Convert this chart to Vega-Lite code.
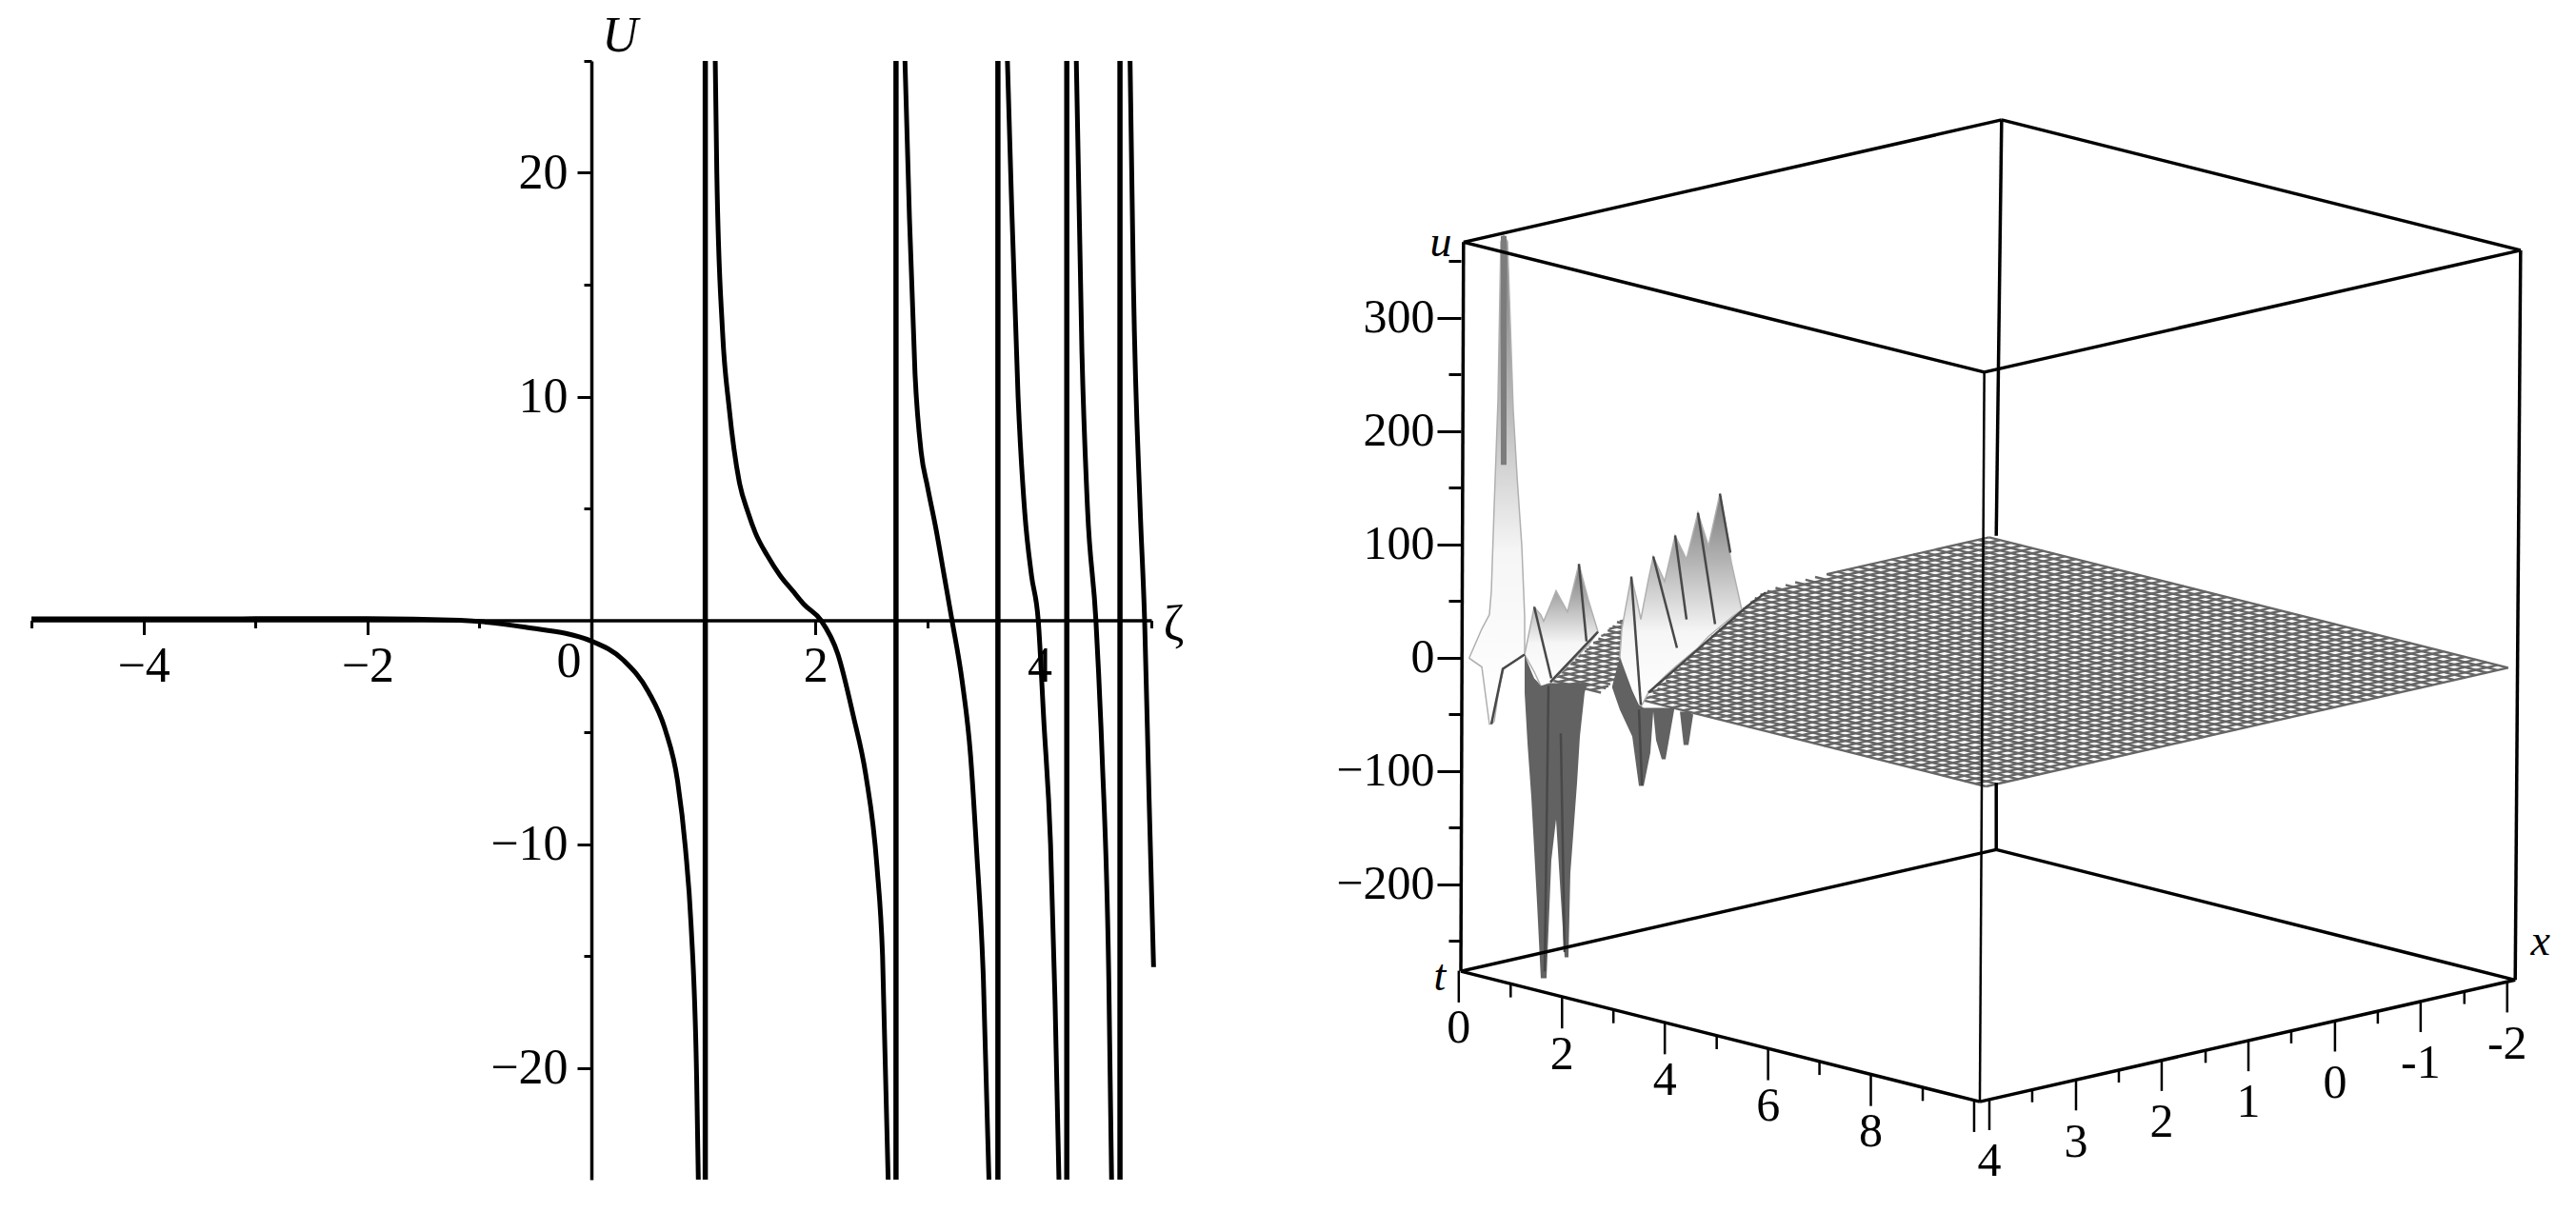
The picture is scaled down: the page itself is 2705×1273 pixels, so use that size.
{
  "$schema": "https://vega.github.io/schema/vega-lite/v6.json",
  "background": "white",
  "padding": {"left": 23, "top": 12, "right": 0, "bottom": 0},
  "bounds": "flush",
  "spacing": 325,
  "config": {"view": {"stroke": null}},
  "datasets": {
    "curve": [
      {"seg":1,"zeta":-5,"U":0.06},{"seg":1,"zeta":-4,"U":0.06},{"seg":1,"zeta":-3,"U":0.07},{"seg":1,"zeta":-2,"U":0.07},{"seg":1,"zeta":-1.17,"U":0},{"seg":1,"zeta":-0.59,"U":-0.31},{"seg":1,"zeta":0,"U":-0.93},{"seg":1,"zeta":0.29,"U":-1.8},{"seg":1,"zeta":0.51,"U":-3.2},{"seg":1,"zeta":0.66,"U":-4.9},{"seg":1,"zeta":0.77,"U":-7.2},{"seg":1,"zeta":0.84,"U":-10.2},{"seg":1,"zeta":0.89,"U":-13.6},{"seg":1,"zeta":0.94,"U":-20.5},{"seg":1,"zeta":0.955,"U":-25},
      {"seg":2,"zeta":1.106,"U":25},{"seg":2,"zeta":1.12,"U":20},{"seg":2,"zeta":1.17,"U":13},{"seg":2,"zeta":1.23,"U":9.5},{"seg":2,"zeta":1.32,"U":6.2},{"seg":2,"zeta":1.4,"U":4.8},{"seg":2,"zeta":1.465,"U":3.9},{"seg":2,"zeta":1.57,"U":2.9},{"seg":2,"zeta":1.685,"U":2},{"seg":2,"zeta":1.8,"U":1.3},{"seg":2,"zeta":1.9,"U":0.7},{"seg":2,"zeta":2.05,"U":0},{"seg":2,"zeta":2.2,"U":-1.5},{"seg":2,"zeta":2.34,"U":-4.3},{"seg":2,"zeta":2.45,"U":-6.9},{"seg":2,"zeta":2.55,"U":-11},{"seg":2,"zeta":2.6,"U":-15},{"seg":2,"zeta":2.65,"U":-25},
      {"seg":3,"zeta":2.8,"U":25},{"seg":3,"zeta":2.84,"U":18},{"seg":3,"zeta":2.89,"U":11},{"seg":3,"zeta":2.945,"U":7.5},{"seg":3,"zeta":3,"U":6},{"seg":3,"zeta":3.08,"U":4},{"seg":3,"zeta":3.15,"U":2},{"seg":3,"zeta":3.22,"U":0},{"seg":3,"zeta":3.31,"U":-2.7},{"seg":3,"zeta":3.385,"U":-6},{"seg":3,"zeta":3.44,"U":-10.3},{"seg":3,"zeta":3.5,"U":-16},{"seg":3,"zeta":3.55,"U":-25},
      {"seg":4,"zeta":3.715,"U":25},{"seg":4,"zeta":3.75,"U":19},{"seg":4,"zeta":3.81,"U":10},{"seg":4,"zeta":3.87,"U":4.8},{"seg":4,"zeta":3.93,"U":2},{"seg":4,"zeta":3.99,"U":0},{"seg":4,"zeta":4.04,"U":-4.5},{"seg":4,"zeta":4.1,"U":-10},{"seg":4,"zeta":4.14,"U":-17},{"seg":4,"zeta":4.175,"U":-25},
      {"seg":5,"zeta":4.33,"U":25},{"seg":5,"zeta":4.38,"U":12},{"seg":5,"zeta":4.43,"U":5},{"seg":5,"zeta":4.505,"U":0},{"seg":5,"zeta":4.56,"U":-6},{"seg":5,"zeta":4.62,"U":-16},{"seg":5,"zeta":4.645,"U":-25},
      {"seg":6,"zeta":4.81,"U":25},{"seg":6,"zeta":4.84,"U":15},{"seg":6,"zeta":4.9,"U":5},{"seg":6,"zeta":4.94,"U":0},{"seg":6,"zeta":4.98,"U":-8},{"seg":6,"zeta":5.02,"U":-15.5}
    ],
    "poles": [{"zeta":1.017},{"zeta":2.72},{"zeta":3.63},{"zeta":4.245},{"zeta":4.72}],
    "frame": [
      {"part":"edge","t0":0,"x0":4,"u0":-277,"t1":10,"x1":4,"u1":-277},
      {"part":"edge","t0":10,"x0":4,"u0":-277,"t1":10,"x1":-2,"u1":-277},
      {"part":"edge","t0":10,"x0":-2,"u0":-277,"t1":0,"x1":-2,"u1":-277},
      {"part":"edge","t0":0,"x0":-2,"u0":-277,"t1":0,"x1":4,"u1":-277},
      {"part":"edge","t0":0,"x0":3.97,"u0":366,"t1":10,"x1":3.95,"u1":366},
      {"part":"edge","t0":10,"x0":3.95,"u0":366,"t1":10,"x1":-2.06,"u1":366},
      {"part":"edge","t0":10,"x0":-2.06,"u0":366,"t1":0,"x1":-2.06,"u1":366},
      {"part":"edge","t0":0,"x0":-2.06,"u0":366,"t1":0,"x1":3.97,"u1":366},
      {"part":"edge","t0":0,"x0":4,"u0":-277,"t1":0,"x1":3.97,"u1":366},
      {"part":"edge","t0":10,"x0":-2,"u0":-277,"t1":10,"x1":-2.06,"u1":366},
      {"part":"edge","t0":0,"x0":-2.06,"u0":366,"t1":0,"x1":-2,"u1":0},
      {"part":"edge","t0":0,"x0":-2,"u0":-218,"t1":0,"x1":-2,"u1":-277},
      {"part":"front","t0":10,"x0":4,"u0":-277,"t1":10,"x1":3.95,"u1":366}
    ],
    "ticks": [
      {"t":-0.04,"x":4,"u1":-305,"label":"0","ul":-328},
      {"t":0.96,"x":4,"u1":-289,"label":"","ul":-328},
      {"t":1.95,"x":4,"u1":-305,"label":"2","ul":-328},
      {"t":2.94,"x":4,"u1":-289,"label":"","ul":-328},
      {"t":3.93,"x":4,"u1":-305,"label":"4","ul":-328},
      {"t":4.93,"x":4,"u1":-289,"label":"","ul":-328},
      {"t":5.92,"x":4,"u1":-305,"label":"6","ul":-328},
      {"t":6.91,"x":4,"u1":-289,"label":"","ul":-328},
      {"t":7.9,"x":4,"u1":-305,"label":"8","ul":-328},
      {"t":8.9,"x":4,"u1":-289,"label":"","ul":-328},
      {"t":9.89,"x":4,"u1":-305,"label":"","ul":-328},
      {"t":10,"x":3.893,"u1":-304,"label":"4","ul":-332},
      {"t":10,"x":3.413,"u1":-288,"label":"","ul":-332},
      {"t":10,"x":2.922,"u1":-304,"label":"3","ul":-332},
      {"t":10,"x":2.442,"u1":-288,"label":"","ul":-332},
      {"t":10,"x":1.962,"u1":-304,"label":"2","ul":-332},
      {"t":10,"x":1.47,"u1":-288,"label":"","ul":-332},
      {"t":10,"x":0.99,"u1":-304,"label":"1","ul":-332},
      {"t":10,"x":0.51,"u1":-288,"label":"","ul":-332},
      {"t":10,"x":0.02,"u1":-304,"label":"0","ul":-332},
      {"t":10,"x":-0.46,"u1":-288,"label":"","ul":-332},
      {"t":10,"x":-0.94,"u1":-304,"label":"-1","ul":-332},
      {"t":10,"x":-1.43,"u1":-288,"label":"","ul":-332},
      {"t":10,"x":-1.91,"u1":-304,"label":"-2","ul":-332}
    ],
    "mesh": [
      {"t0":0,"x0":-0.1,"t1":0,"x1":-1.92},{"t0":0.208,"x0":0.72,"t1":0.208,"x1":-1.92},{"t0":0.417,"x0":0.98,"t1":0.417,"x1":-1.92},{"t0":0.625,"x0":1.2,"t1":0.625,"x1":-1.92},{"t0":0.833,"x0":1.41,"t1":0.833,"x1":-1.92},{"t0":1.042,"x0":1.62,"t1":1.042,"x1":-1.92},{"t0":1.25,"x0":1.83,"t1":1.25,"x1":-1.92},{"t0":1.458,"x0":2.04,"t1":1.458,"x1":-1.92},{"t0":1.667,"x0":2.25,"t1":1.667,"x1":-1.92},{"t0":1.875,"x0":2.45,"t1":1.875,"x1":-1.92},{"t0":2.083,"x0":2.66,"t1":2.083,"x1":-1.92},{"t0":2.292,"x0":2.87,"t1":2.292,"x1":-1.92},{"t0":2.5,"x0":3.08,"t1":2.5,"x1":-1.92},{"t0":2.708,"x0":3.29,"t1":2.708,"x1":-1.92},{"t0":2.917,"x0":3.5,"t1":2.917,"x1":-1.92},{"t0":3.125,"x0":3.7,"t1":3.125,"x1":-1.92},{"t0":3.333,"x0":3.91,"t1":3.333,"x1":-1.92},
      {"t0":3.542,"x0":3.93,"t1":3.542,"x1":-1.92},{"t0":3.75,"x0":3.93,"t1":3.75,"x1":-1.92},{"t0":3.958,"x0":3.93,"t1":3.958,"x1":-1.92},{"t0":4.167,"x0":3.93,"t1":4.167,"x1":-1.92},{"t0":4.375,"x0":3.93,"t1":4.375,"x1":-1.92},{"t0":4.583,"x0":3.93,"t1":4.583,"x1":-1.92},{"t0":4.792,"x0":3.93,"t1":4.792,"x1":-1.92},{"t0":5,"x0":3.93,"t1":5,"x1":-1.92},{"t0":5.208,"x0":3.93,"t1":5.208,"x1":-1.92},{"t0":5.417,"x0":3.93,"t1":5.417,"x1":-1.92},{"t0":5.625,"x0":3.93,"t1":5.625,"x1":-1.92},{"t0":5.833,"x0":3.93,"t1":5.833,"x1":-1.92},{"t0":6.042,"x0":3.93,"t1":6.042,"x1":-1.92},{"t0":6.25,"x0":3.93,"t1":6.25,"x1":-1.92},{"t0":6.458,"x0":3.93,"t1":6.458,"x1":-1.92},{"t0":6.667,"x0":3.93,"t1":6.667,"x1":-1.92},{"t0":6.875,"x0":3.93,"t1":6.875,"x1":-1.92},{"t0":7.083,"x0":3.93,"t1":7.083,"x1":-1.92},{"t0":7.292,"x0":3.93,"t1":7.292,"x1":-1.92},{"t0":7.5,"x0":3.93,"t1":7.5,"x1":-1.92},{"t0":7.708,"x0":3.93,"t1":7.708,"x1":-1.92},{"t0":7.917,"x0":3.93,"t1":7.917,"x1":-1.92},{"t0":8.125,"x0":3.93,"t1":8.125,"x1":-1.92},{"t0":8.333,"x0":3.93,"t1":8.333,"x1":-1.92},{"t0":8.542,"x0":3.93,"t1":8.542,"x1":-1.92},{"t0":8.75,"x0":3.93,"t1":8.75,"x1":-1.92},{"t0":8.958,"x0":3.93,"t1":8.958,"x1":-1.92},{"t0":9.167,"x0":3.93,"t1":9.167,"x1":-1.92},{"t0":9.375,"x0":3.93,"t1":9.375,"x1":-1.92},{"t0":9.583,"x0":3.93,"t1":9.583,"x1":-1.92},{"t0":9.792,"x0":3.93,"t1":9.792,"x1":-1.92},{"t0":10,"x0":3.93,"t1":10,"x1":-1.92},
      {"t0":3.42,"x0":3.93,"t1":10,"x1":3.93},{"t0":3.3,"x0":3.81,"t1":10,"x1":3.81},{"t0":3.17,"x0":3.69,"t1":10,"x1":3.69},{"t0":3.05,"x0":3.57,"t1":10,"x1":3.57},{"t0":2.92,"x0":3.45,"t1":10,"x1":3.45},{"t0":2.8,"x0":3.33,"t1":10,"x1":3.33},{"t0":2.67,"x0":3.21,"t1":10,"x1":3.21},{"t0":2.55,"x0":3.09,"t1":10,"x1":3.09},{"t0":2.42,"x0":2.96,"t1":10,"x1":2.96},{"t0":2.3,"x0":2.84,"t1":10,"x1":2.84},{"t0":2.17,"x0":2.72,"t1":10,"x1":2.72},{"t0":2.05,"x0":2.6,"t1":10,"x1":2.6},{"t0":1.92,"x0":2.48,"t1":10,"x1":2.48},{"t0":1.8,"x0":2.35,"t1":10,"x1":2.35},{"t0":1.67,"x0":2.23,"t1":10,"x1":2.23},{"t0":1.55,"x0":2.11,"t1":10,"x1":2.11},{"t0":1.42,"x0":1.98,"t1":10,"x1":1.98},{"t0":1.3,"x0":1.86,"t1":10,"x1":1.86},{"t0":1.17,"x0":1.74,"t1":10,"x1":1.74},{"t0":1.05,"x0":1.62,"t1":10,"x1":1.62},{"t0":0.92,"x0":1.49,"t1":10,"x1":1.49},{"t0":0.8,"x0":1.37,"t1":10,"x1":1.37},{"t0":0.67,"x0":1.25,"t1":10,"x1":1.25},{"t0":0.56,"x0":1.13,"t1":10,"x1":1.13},{"t0":0.42,"x0":1,"t1":10,"x1":1},{"t0":0.3,"x0":0.88,"t1":10,"x1":0.88},{"t0":0.2,"x0":0.76,"t1":10,"x1":0.76},{"t0":0.13,"x0":0.64,"t1":10,"x1":0.64},{"t0":0.08,"x0":0.52,"t1":10,"x1":0.52},{"t0":0.05,"x0":0.39,"t1":10,"x1":0.39},{"t0":0.03,"x0":0.27,"t1":10,"x1":0.27},{"t0":0.02,"x0":0.15,"t1":10,"x1":0.15},
      {"t0":0,"x0":0.03,"t1":10,"x1":0.03},{"t0":0,"x0":-0.1,"t1":10,"x1":-0.1},{"t0":0,"x0":-0.22,"t1":10,"x1":-0.22},{"t0":0,"x0":-0.34,"t1":10,"x1":-0.34},{"t0":0,"x0":-0.46,"t1":10,"x1":-0.46},{"t0":0,"x0":-0.58,"t1":10,"x1":-0.58},{"t0":0,"x0":-0.71,"t1":10,"x1":-0.71},{"t0":0,"x0":-0.83,"t1":10,"x1":-0.83},{"t0":0,"x0":-0.95,"t1":10,"x1":-0.95},{"t0":0,"x0":-1.07,"t1":10,"x1":-1.07},{"t0":0,"x0":-1.19,"t1":10,"x1":-1.19},{"t0":0,"x0":-1.32,"t1":10,"x1":-1.32},{"t0":0,"x0":-1.44,"t1":10,"x1":-1.44},{"t0":0,"x0":-1.56,"t1":10,"x1":-1.56},{"t0":0,"x0":-1.68,"t1":10,"x1":-1.68},{"t0":0,"x0":-1.8,"t1":10,"x1":-1.8},{"t0":0,"x0":-1.92,"t1":10,"x1":-1.92},
      {"t0":0,"x0":2.22,"t1":0,"x1":1.3},{"t0":0.208,"x0":2.46,"t1":0.208,"x1":1.51},{"t0":0.417,"x0":2.67,"t1":0.417,"x1":1.72},{"t0":0.625,"x0":2.88,"t1":0.625,"x1":1.93},{"t0":0.833,"x0":3.08,"t1":0.833,"x1":2.13},{"t0":1.042,"x0":3.29,"t1":1.042,"x1":2.34},{"t0":1.25,"x0":3.5,"t1":1.25,"x1":2.55},{"t0":1.458,"x0":3.71,"t1":1.458,"x1":2.76},{"t0":1.667,"x0":3.92,"t1":1.667,"x1":2.97},{"t0":1.875,"x0":4,"t1":1.875,"x1":3.17},{"t0":2.083,"x0":4,"t1":2.083,"x1":3.38},{"t0":2.292,"x0":4,"t1":2.292,"x1":3.59},{"t0":2.5,"x0":4,"t1":2.5,"x1":3.8},
      {"t0":1.75,"x0":4,"t1":2.7,"x1":4},{"t0":1.63,"x0":3.875,"t1":2.58,"x1":3.875},{"t0":1.5,"x0":3.75,"t1":2.45,"x1":3.75},{"t0":1.38,"x0":3.625,"t1":2.33,"x1":3.625},{"t0":1.25,"x0":3.5,"t1":2.2,"x1":3.5},{"t0":1.13,"x0":3.375,"t1":2.08,"x1":3.375},{"t0":1,"x0":3.25,"t1":1.95,"x1":3.25},{"t0":0.88,"x0":3.125,"t1":1.83,"x1":3.125},{"t0":0.75,"x0":3,"t1":1.7,"x1":3},{"t0":0.63,"x0":2.875,"t1":1.58,"x1":2.875},{"t0":0.5,"x0":2.75,"t1":1.45,"x1":2.75},{"t0":0.38,"x0":2.625,"t1":1.33,"x1":2.625},{"t0":0.25,"x0":2.5,"t1":1.2,"x1":2.5},{"t0":0.13,"x0":2.375,"t1":1.08,"x1":2.375},{"t0":0,"x0":2.25,"t1":0.95,"x1":2.25},{"t0":0,"x0":2.125,"t1":0.83,"x1":2.125},{"t0":0,"x0":2,"t1":0.7,"x1":2},{"t0":0,"x0":1.875,"t1":0.58,"x1":1.875},{"t0":0,"x0":1.75,"t1":0.45,"x1":1.75},{"t0":0,"x0":1.625,"t1":0.33,"x1":1.625},{"t0":0,"x0":1.5,"t1":0.2,"x1":1.5},{"t0":0,"x0":1.375,"t1":0.08,"x1":1.375}
    ],
    "spikes": [
      {"spike":"a","h":0.096,"v":0,"v0":-0.8},{"spike":"a","h":0.235,"v":25.2,"v0":-8.4},{"spike":"a","h":0.32,"v":37.8,"v0":-58.8},{"spike":"a","h":0.342,"v":58.8,"v0":-58.8},{"spike":"a","h":0.374,"v":134.4,"v0":-56.3},{"spike":"a","h":0.416,"v":226.9,"v0":-33.6},{"spike":"a","h":0.448,"v":367.2,"v0":-21},{"spike":"a","h":0.48,"v":372.3,"v0":-10.1},{"spike":"a","h":0.523,"v":367.2,"v0":-7.6},{"spike":"a","h":0.587,"v":218.5,"v0":-4.2},{"spike":"a","h":0.63,"v":159.7,"v0":-1.7},{"spike":"a","h":0.683,"v":98.3,"v0":1.7},{"spike":"a","h":0.715,"v":36.1,"v0":2.5},
      {"spike":"b","h":0.715,"v":2.5,"v0":2.5},{"spike":"b","h":0.822,"v":44.5,"v0":-12.6},{"spike":"b","h":0.896,"v":37.8,"v0":-25.2},{"spike":"b","h":0.928,"v":31.9,"v0":-25.2},{"spike":"b","h":1.003,"v":46.2,"v0":-22.7},{"spike":"b","h":1.067,"v":58.8,"v0":-17.6},{"spike":"b","h":1.195,"v":40.3,"v0":-7.6},{"spike":"b","h":1.323,"v":82.4,"v0":2.5},{"spike":"b","h":1.43,"v":50.4,"v0":10.9},{"spike":"b","h":1.537,"v":22.7,"v0":22.7},
      {"spike":"c","h":0.715,"v":2.5,"v0":-31.1},{"spike":"c","h":0.747,"v":-4.2,"v0":-75.6},{"spike":"c","h":0.79,"v":-12.6,"v0":-123.5},{"spike":"c","h":0.822,"v":-18.5,"v0":-169.7},{"spike":"c","h":0.854,"v":-21,"v0":-216.8},{"spike":"c","h":0.896,"v":-25.2,"v0":-283.2},{"spike":"c","h":0.96,"v":-23.5,"v0":-283.2},{"spike":"c","h":1.014,"v":-22.7,"v0":-179},{"spike":"c","h":1.067,"v":-22.7,"v0":-142.9},{"spike":"c","h":1.121,"v":-22.7,"v0":-212.6},{"spike":"c","h":1.163,"v":-22.7,"v0":-264.7},{"spike":"c","h":1.206,"v":-22.7,"v0":-264.7},{"spike":"c","h":1.227,"v":-22.7,"v0":-190.7},{"spike":"c","h":1.302,"v":-22.7,"v0":-110.9},{"spike":"c","h":1.334,"v":-22.7,"v0":-69.7},{"spike":"c","h":1.387,"v":-22.7,"v0":-31.1},{"spike":"c","h":1.419,"v":-22.7,"v0":-22.7},
      {"spike":"d","h":1.782,"v":0,"v0":0},{"spike":"d","h":1.804,"v":25.2,"v0":-5.9},{"spike":"d","h":1.91,"v":71.4,"v0":-29.4},{"spike":"d","h":1.974,"v":50.4,"v0":-42},{"spike":"d","h":2.017,"v":33.6,"v0":-43.7},{"spike":"d","h":2.102,"v":68.9,"v0":-31.1},{"spike":"d","h":2.156,"v":89.1,"v0":-26.9},{"spike":"d","h":2.284,"v":67.2,"v0":-16.8},{"spike":"d","h":2.401,"v":107.6,"v0":-8.4},{"spike":"d","h":2.529,"v":86.6,"v0":0},{"spike":"d","h":2.657,"v":127.7,"v0":8.4},{"spike":"d","h":2.775,"v":98.3,"v0":18.5},{"spike":"d","h":2.903,"v":144.5,"v0":26.9},{"spike":"d","h":3.031,"v":84,"v0":35.3},{"spike":"d","h":3.148,"v":42,"v0":42},
      {"spike":"e","h":1.697,"v":-25.2,"v0":-26.9},{"spike":"e","h":1.782,"v":0,"v0":-46.2},{"spike":"e","h":1.921,"v":-29.4,"v0":-69.7},{"spike":"e","h":1.996,"v":-42,"v0":-113.4},{"spike":"e","h":2.049,"v":-44.5,"v0":-113.4},{"spike":"e","h":2.124,"v":-44.5,"v0":-84},{"spike":"e","h":2.156,"v":-44.5,"v0":-47.9},{"spike":"e","h":2.188,"v":-44.5,"v0":-73.1},{"spike":"e","h":2.252,"v":-44.5,"v0":-89.9},{"spike":"e","h":2.294,"v":-44.5,"v0":-89.9},{"spike":"e","h":2.391,"v":-44.5,"v0":-46.2},
      {"spike":"f","h":2.455,"v":-47.9,"v0":-47.9},{"spike":"f","h":2.497,"v":-47.9,"v0":-77.3},{"spike":"f","h":2.551,"v":-47.9,"v0":-77.3},{"spike":"f","h":2.604,"v":-50.4,"v0":-50.4}
    ],
    "ridges": [
      {"ridge":"r2","n":1,"h":0.822,"v":44.5},{"ridge":"r2","n":2,"h":1.014,"v":-18.5},
      {"ridge":"r3","n":1,"h":1.323,"v":82.4},{"ridge":"r3","n":2,"h":1.408,"v":14.3},
      {"ridge":"r4","n":1,"h":1.003,"v":-21.8},{"ridge":"r4","n":2,"h":1.537,"v":22.7},
      {"ridge":"r5","n":1,"h":1.91,"v":71.4},{"ridge":"r5","n":2,"h":2.017,"v":-42},
      {"ridge":"r6","n":1,"h":2.156,"v":89.1},{"ridge":"r6","n":2,"h":2.422,"v":8.4},
      {"ridge":"r7","n":1,"h":2.401,"v":107.6},{"ridge":"r7","n":2,"h":2.529,"v":33.6},
      {"ridge":"r8","n":1,"h":2.657,"v":127.7},{"ridge":"r8","n":2,"h":2.849,"v":29.4},
      {"ridge":"r9","n":1,"h":2.903,"v":144.5},{"ridge":"r9","n":2,"h":3.02,"v":92.4},
      {"ridge":"r10","n":1,"h":2.102,"v":-31.1},{"ridge":"r10","n":2,"h":3.2,"v":44.5},{"ridge":"r10","n":3,"h":3.415,"v":57.1},
      {"ridge":"r11","n":1,"h":0.342,"v":-58.8},{"ridge":"r11","n":2,"h":0.47,"v":-10},{"ridge":"r11","n":3,"h":0.715,"v":2.5},
      {"ridge":"r12","n":1,"h":1.996,"v":-46},{"ridge":"r12","n":2,"h":2.03,"v":-113},
      {"ridge":"r13","n":1,"h":0.982,"v":-25},{"ridge":"r13","n":2,"h":0.94,"v":-277},
      {"ridge":"r14","n":1,"h":1.12,"v":-67},{"ridge":"r14","n":2,"h":1.163,"v":-260}
    ]
  },
  "hconcat": [
    {
      "width": 1176,
      "height": 1175,
      "encoding": {
        "x": {
          "field": "zeta",
          "type": "quantitative",
          "scale": {"domain": [-5, 5], "nice": false, "zero": false},
          "axis": {
            "orient": "bottom", "offset": -587.5, "title": null, "grid": false,
            "values": [-5, -4, -3, -2, -1, 0, 1, 2, 3, 4, 5],
            "labelExpr": "datum.value % 2 == 0 && datum.value != 0 ? datum.label : ''",
            "tickSize": {"condition": {"test": "datum.value % 2 == 0", "value": 15}, "value": 8},
            "tickWidth": 3, "tickColor": "black", "domainColor": "black", "domainWidth": 3.5,
            "labelFont": "Liberation Serif", "labelFontSize": 52, "labelColor": "black",
            "labelPadding": 8, "labelBaseline": "top", "labelFlush": false, "labelOverlap": false
          }
        },
        "y": {
          "field": "U",
          "type": "quantitative",
          "scale": {"domain": [-25, 25], "nice": false, "zero": false},
          "axis": {
            "orient": "left", "offset": -588, "title": null, "grid": false,
            "values": [-20, -15, -10, -5, 5, 10, 15, 20, 25],
            "labelExpr": "datum.value % 10 == 0 ? datum.label : ''",
            "tickSize": {"condition": {"test": "datum.value % 10 == 0", "value": 15}, "value": 8},
            "tickWidth": 3, "tickColor": "black", "domainColor": "black", "domainWidth": 3.5,
            "labelFont": "Liberation Serif", "labelFontSize": 52, "labelColor": "black",
            "labelPadding": 10, "labelFlush": false, "labelOverlap": false
          }
        }
      },
      "layer": [
        {
          "data": {"name": "poles"},
          "mark": {"type": "rule", "color": "black", "strokeWidth": 5.5},
          "encoding": {"y": {"value": 0}, "y2": {"value": 1175}}
        },
        {
          "data": {"name": "curve"},
          "mark": {"type": "line", "color": "black", "strokeWidth": 5, "interpolate": "monotone", "clip": false},
          "encoding": {"detail": {"field": "seg", "type": "nominal"}}
        },
        {
          "data": {"values": [{"zeta": -0.2, "U": -1.83, "name": "0"}, {"zeta": 5.2, "U": -0.2, "name": "ζ"}]},
          "mark": {"type": "text", "font": "Liberation Serif", "fontSize": 52, "color": "black", "baseline": "middle"},
          "encoding": {"text": {"field": "name", "type": "nominal"}}
        },
        {
          "data": {"values": [{"zeta": 0.255, "U": 26.1, "name": "U"}]},
          "mark": {"type": "text", "font": "Liberation Serif", "fontStyle": "italic", "fontSize": 52, "color": "black", "baseline": "middle"},
          "encoding": {"text": {"field": "name", "type": "nominal"}}
        }
      ]
    },
    {
      "width": 1113,
      "height": 1175,
      "encoding": {
        "x": {
          "field": "h",
          "type": "quantitative",
          "scale": {"domain": [0, 11.878], "nice": false, "zero": false},
          "axis": null
        },
        "y": {
          "field": "v",
          "type": "quantitative",
          "scale": {"domain": [-460.9, 526.5], "nice": false, "zero": false},
          "axis": {
            "orient": "left", "title": null, "grid": false, "domain": false,
            "values": [-250, -200, -150, -100, -50, 0, 50, 100, 150, 200, 250, 300, 350],
            "labelExpr": "datum.value % 100 == 0 ? datum.label : ''",
            "tickSize": {"condition": {"test": "datum.value % 100 == 0", "value": 25}, "value": 13},
            "tickWidth": 3, "tickColor": "black",
            "labelFont": "Liberation Serif", "labelFontSize": 50, "labelColor": "black",
            "labelPadding": 3, "labelFlush": false, "labelOverlap": false
          }
        }
      },
      "layer": [
        {
          "data": {"name": "mesh"},
          "transform": [
            {"calculate": "(4 - datum.x0) + 0.5816 * datum.t0", "as": "h"},
            {"calculate": "-11.51 * datum.t0 + 17.9 * (4 - datum.x0)", "as": "v"},
            {"calculate": "(4 - datum.x1) + 0.5816 * datum.t1", "as": "h1"},
            {"calculate": "-11.51 * datum.t1 + 17.9 * (4 - datum.x1)", "as": "v1"}
          ],
          "mark": {"type": "rule", "color": "#666666", "strokeWidth": 2.4},
          "encoding": {"x2": {"field": "h1"}, "y2": {"field": "v1"}}
        },
        {
          "data": {"name": "spikes"},
          "transform": [{"filter": "indexof(['a','b','d'], datum.spike) >= 0"}],
          "mark": {
            "type": "area",
            "stroke": "#b0b0b0",
            "strokeWidth": 1.5,
            "color": {
              "x1": 0, "y1": 0, "x2": 0, "y2": 1, "gradient": "linear",
              "stops": [
                {"offset": 0, "color": "#7a7a7a"},
                {"offset": 0.3, "color": "#b0b0b0"},
                {"offset": 0.65, "color": "#f6f6f6"},
                {"offset": 1, "color": "#ffffff"}
              ]
            }
          },
          "encoding": {"y2": {"field": "v0"}, "detail": {"field": "spike", "type": "nominal"}}
        },
        {
          "data": {"name": "spikes"},
          "transform": [{"filter": "indexof(['c','e','f'], datum.spike) >= 0"}],
          "mark": {"type": "area", "color": "#626262"},
          "encoding": {"y2": {"field": "v0"}, "detail": {"field": "spike", "type": "nominal"}}
        },
        {
          "data": {"name": "ridges"},
          "mark": {"type": "line", "color": "#484848", "strokeWidth": 2.5},
          "encoding": {"detail": {"field": "ridge", "type": "nominal"}, "order": {"field": "n", "type": "quantitative"}}
        },
        {
          "data": {"values": [{"h": 0.48, "v": 372}, {"h": 0.48, "v": 170}]},
          "mark": {"type": "line", "color": "#7c7c7c", "strokeWidth": 6}
        },
        {
          "data": {"name": "frame"},
          "transform": [
            {"filter": "datum.part == 'edge'"},
            {"calculate": "(4 - datum.x0) + 0.5816 * datum.t0", "as": "h"},
            {"calculate": "datum.u0 - 11.51 * datum.t0 + 17.9 * (4 - datum.x0)", "as": "v"},
            {"calculate": "(4 - datum.x1) + 0.5816 * datum.t1", "as": "h1"},
            {"calculate": "datum.u1 - 11.51 * datum.t1 + 17.9 * (4 - datum.x1)", "as": "v1"}
          ],
          "mark": {"type": "rule", "color": "black", "strokeWidth": 3.5},
          "encoding": {"x2": {"field": "h1"}, "y2": {"field": "v1"}}
        },
        {
          "data": {"name": "frame"},
          "transform": [
            {"filter": "datum.part == 'front'"},
            {"calculate": "(4 - datum.x0) + 0.5816 * datum.t0", "as": "h"},
            {"calculate": "datum.u0 - 11.51 * datum.t0 + 17.9 * (4 - datum.x0)", "as": "v"},
            {"calculate": "(4 - datum.x1) + 0.5816 * datum.t1", "as": "h1"},
            {"calculate": "datum.u1 - 11.51 * datum.t1 + 17.9 * (4 - datum.x1)", "as": "v1"}
          ],
          "mark": {"type": "rule", "color": "black", "strokeWidth": 2.5},
          "encoding": {"x2": {"field": "h1"}, "y2": {"field": "v1"}}
        },
        {
          "data": {"name": "ticks"},
          "transform": [
            {"calculate": "(4 - datum.x) + 0.5816 * datum.t", "as": "h"},
            {"calculate": "-277 - 11.51 * datum.t + 17.9 * (4 - datum.x)", "as": "v"},
            {"calculate": "datum.u1 - 11.51 * datum.t + 17.9 * (4 - datum.x)", "as": "v1"}
          ],
          "mark": {"type": "rule", "color": "black", "strokeWidth": 2.5},
          "encoding": {"y2": {"field": "v1"}}
        },
        {
          "data": {"name": "ticks"},
          "transform": [
            {"filter": "datum.label != ''"},
            {"calculate": "(4 - datum.x) + 0.5816 * datum.t", "as": "h"},
            {"calculate": "datum.ul - 11.51 * datum.t + 17.9 * (4 - datum.x)", "as": "v"}
          ],
          "mark": {"type": "text", "font": "Liberation Serif", "fontSize": 50, "color": "black", "baseline": "middle"},
          "encoding": {"text": {"field": "label", "type": "nominal"}}
        },
        {
          "data": {"values": [{"h": -0.224, "v": 366, "name": "u"}, {"h": -0.235, "v": -282, "name": "t"}, {"h": 12.1, "v": -251, "name": "x"}]},
          "mark": {"type": "text", "font": "Liberation Serif", "fontStyle": "italic", "fontSize": 46, "color": "black", "baseline": "middle"},
          "encoding": {"text": {"field": "name", "type": "nominal"}}
        }
      ]
    }
  ]
}
